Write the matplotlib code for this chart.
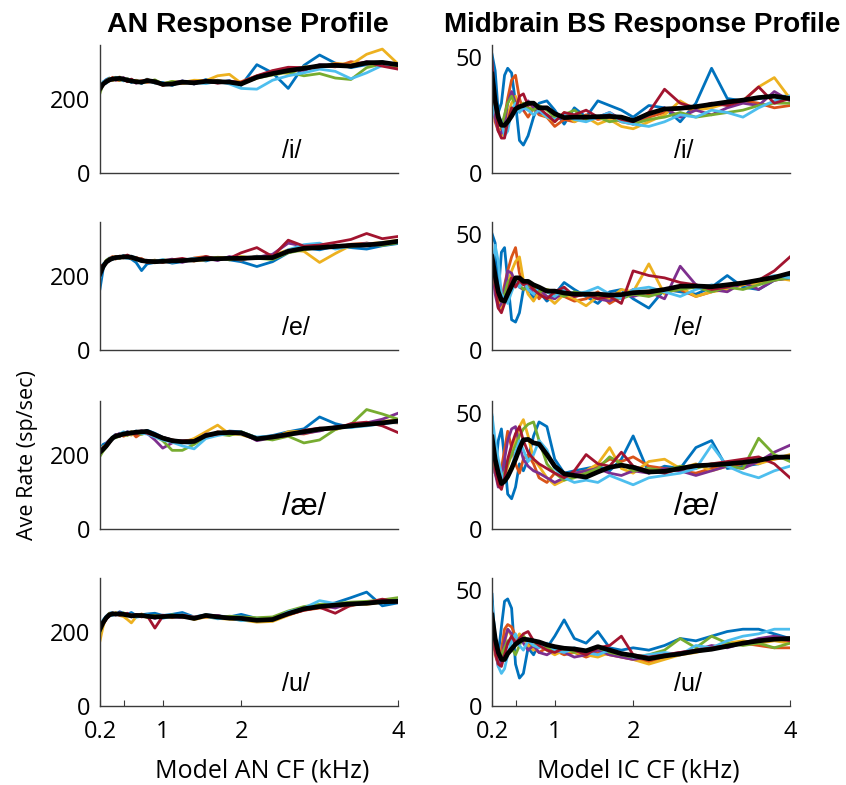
import matplotlib
matplotlib.use("Agg")
import matplotlib.pyplot as plt

# characteristic frequencies (kHz) shared by every trace
cf_khz = [0.20, 0.24, 0.28, 0.32, 0.36, 0.40, 0.45, 0.50, 0.55, 0.60, 0.66, 0.73,
          0.80, 0.90, 1.00, 1.12, 1.25, 1.40, 1.55, 1.70, 1.85, 2.00, 2.20, 2.40,
          2.60, 2.80, 3.00, 3.20, 3.40, 3.60, 3.80, 4.00]

# AN average rate (sp/sec); one row per talker/token, order = MATLAB colour order
an_i = [
    [222, 245, 252, 256, 250, 258, 253, 249, 255, 244, 250, 241, 253, 242, 244, 236, 248, 240, 252, 243, 249, 236, 292, 270, 228, 290, 318, 296, 284, 292, 300, 287],
    [230, 236, 250, 248, 258, 251, 249, 256, 246, 252, 243, 249, 244, 250, 236, 245, 241, 247, 244, 250, 242, 246, 262, 272, 280, 278, 290, 286, 300, 294, 290, 285],
    [220, 243, 248, 255, 249, 253, 259, 250, 254, 247, 250, 244, 252, 243, 241, 246, 244, 250, 249, 262, 266, 242, 255, 275, 268, 286, 285, 296, 292, 320, 334, 294],
    [232, 238, 244, 252, 256, 250, 254, 257, 248, 251, 242, 247, 250, 244, 238, 243, 248, 240, 250, 244, 248, 242, 260, 270, 281, 276, 292, 288, 290, 300, 296, 290],
    [215, 241, 247, 249, 254, 257, 250, 252, 249, 246, 248, 243, 246, 251, 240, 247, 242, 245, 243, 249, 244, 241, 256, 264, 272, 262, 268, 256, 252, 284, 294, 288],
    [228, 246, 242, 253, 251, 256, 258, 248, 252, 249, 244, 246, 248, 244, 242, 238, 246, 244, 241, 247, 240, 228, 226, 250, 262, 270, 280, 274, 254, 270, 290, 295],
    [225, 238, 249, 250, 255, 252, 256, 251, 247, 253, 245, 244, 251, 247, 237, 241, 243, 246, 248, 242, 247, 244, 262, 276, 285, 284, 286, 294, 290, 299, 288, 280],
]
an_i_mean = [227, 240, 246, 251, 253, 254, 255, 253, 250, 248, 246, 245, 249, 246, 239, 240, 245, 243, 247, 246, 245, 240, 258, 268, 276, 282, 289, 290, 288, 297, 298, 292]

an_e = [
    [165, 218, 240, 248, 244, 252, 247, 255, 249, 245, 236, 214, 232, 236, 241, 234, 238, 246, 240, 249, 243, 238, 225, 238, 262, 276, 270, 280, 276, 272, 281, 287],
    [215, 228, 240, 246, 252, 245, 253, 248, 255, 246, 250, 243, 240, 242, 236, 244, 239, 248, 252, 244, 250, 242, 253, 246, 264, 272, 280, 276, 285, 288, 284, 292],
    [210, 230, 236, 245, 249, 252, 247, 253, 249, 252, 244, 246, 238, 235, 243, 241, 244, 240, 243, 250, 248, 252, 246, 255, 270, 266, 236, 260, 282, 286, 290, 296],
    [200, 222, 238, 240, 249, 247, 252, 250, 254, 248, 247, 240, 242, 236, 240, 245, 236, 246, 248, 241, 252, 246, 250, 258, 288, 280, 274, 282, 280, 288, 283, 295],
    [208, 226, 242, 247, 245, 250, 248, 253, 250, 248, 243, 245, 236, 242, 238, 239, 244, 241, 247, 249, 243, 251, 247, 244, 262, 270, 276, 280, 278, 286, 282, 289],
    [195, 232, 236, 244, 250, 246, 251, 249, 247, 253, 248, 238, 240, 239, 244, 236, 242, 247, 244, 245, 249, 244, 252, 247, 270, 284, 288, 272, 280, 282, 290, 291],
    [230, 224, 234, 246, 248, 251, 249, 252, 256, 250, 244, 246, 236, 240, 237, 243, 247, 240, 252, 245, 247, 262, 276, 252, 296, 280, 283, 290, 298, 314, 300, 306],
]
an_e_mean = [205, 225, 237, 243, 247, 249, 250, 251, 251, 250, 246, 241, 239, 238, 239, 240, 241, 243, 246, 246, 247, 247, 249, 249, 266, 274, 276, 279, 282, 283, 287, 293]

an_ae = [
    [215, 228, 232, 240, 248, 255, 250, 258, 262, 255, 264, 259, 266, 258, 247, 240, 233, 230, 250, 254, 264, 262, 246, 252, 262, 270, 302, 284, 274, 282, 284, 290],
    [210, 218, 228, 240, 242, 252, 256, 250, 255, 262, 248, 258, 260, 252, 242, 236, 238, 240, 246, 262, 256, 258, 240, 250, 258, 256, 266, 272, 276, 284, 288, 286],
    [205, 222, 226, 232, 246, 248, 254, 260, 256, 253, 262, 258, 264, 248, 244, 240, 232, 244, 262, 280, 256, 254, 242, 244, 262, 264, 270, 268, 280, 284, 290, 294],
    [200, 212, 230, 238, 244, 252, 258, 254, 262, 256, 260, 265, 258, 240, 218, 232, 238, 234, 256, 254, 262, 260, 238, 246, 254, 258, 264, 276, 280, 286, 296, 312],
    [196, 210, 220, 234, 248, 246, 250, 255, 252, 262, 258, 255, 260, 250, 238, 212, 212, 228, 248, 256, 252, 262, 246, 240, 250, 232, 240, 268, 282, 322, 310, 296],
    [222, 216, 226, 236, 242, 250, 256, 262, 258, 256, 262, 258, 256, 248, 240, 234, 224, 216, 244, 252, 258, 256, 248, 250, 256, 260, 268, 274, 274, 278, 284, 288],
    [208, 220, 222, 232, 246, 254, 250, 257, 254, 258, 256, 262, 258, 252, 247, 240, 236, 238, 250, 256, 262, 258, 244, 246, 252, 266, 272, 270, 284, 288, 278, 260],
]
an_ae_mean = [207, 215, 224, 235, 245, 250, 253, 256, 258, 259, 261, 262, 263, 254, 245, 238, 235, 236, 252, 259, 260, 259, 243, 248, 255, 262, 269, 273, 278, 282, 286, 291]

an_u = [
    [200, 230, 242, 250, 252, 246, 254, 250, 247, 252, 244, 246, 248, 250, 244, 247, 252, 240, 246, 243, 240, 247, 236, 238, 248, 266, 270, 278, 292, 307, 270, 278],
    [205, 220, 236, 244, 251, 247, 249, 250, 244, 246, 241, 248, 240, 243, 239, 244, 238, 241, 239, 244, 235, 239, 228, 236, 246, 258, 264, 268, 270, 280, 284, 286],
    [176, 215, 240, 250, 246, 252, 244, 241, 233, 224, 240, 246, 238, 241, 244, 238, 245, 233, 240, 236, 234, 232, 226, 228, 244, 260, 266, 270, 276, 274, 280, 284],
    [210, 228, 236, 242, 249, 245, 252, 248, 250, 240, 247, 243, 244, 236, 245, 240, 239, 238, 242, 244, 236, 234, 233, 235, 252, 262, 272, 264, 278, 276, 284, 280],
    [198, 226, 240, 244, 246, 250, 247, 251, 246, 244, 242, 247, 241, 244, 238, 246, 240, 236, 246, 238, 242, 240, 238, 240, 256, 268, 274, 276, 280, 282, 286, 292],
    [212, 232, 242, 248, 244, 250, 246, 248, 243, 245, 239, 242, 246, 240, 236, 243, 246, 240, 242, 235, 238, 230, 234, 232, 254, 264, 284, 276, 272, 279, 282, 285],
    [220, 222, 234, 246, 250, 248, 245, 247, 249, 242, 246, 240, 244, 210, 242, 240, 245, 239, 244, 241, 236, 238, 232, 234, 246, 258, 266, 250, 272, 278, 288, 280],
]
an_u_mean = [207, 225, 238, 246, 248, 248, 248, 247, 245, 243, 244, 244, 242, 240, 241, 242, 242, 236, 244, 240, 237, 236, 231, 233, 249, 262, 268, 272, 275, 277, 281, 282]

# midbrain (IC) average rate (sp/sec)
ic_i = [
    [51, 44, 26, 30, 42, 45, 43, 30, 14, 12, 16, 24, 30, 31, 27, 21, 28, 24, 31, 29, 27, 24, 29, 28, 22, 30, 45, 32, 31, 32, 33, 33],
    [34, 22, 18, 19, 24, 32, 40, 42, 32, 27, 24, 28, 25, 24, 20, 23, 22, 25, 23, 24, 22, 21, 24, 26, 28, 27, 29, 30, 31, 30, 28, 29],
    [40, 26, 19, 16, 18, 25, 30, 33, 28, 30, 27, 29, 26, 24, 22, 26, 22, 24, 21, 23, 20, 19, 22, 25, 31, 27, 28, 30, 31, 37, 41, 32],
    [38, 24, 18, 17, 21, 30, 35, 30, 28, 27, 31, 28, 26, 25, 23, 24, 25, 23, 24, 26, 23, 22, 25, 28, 24, 27, 25, 28, 30, 29, 35, 31],
    [36, 28, 21, 20, 25, 30, 33, 29, 27, 30, 28, 27, 29, 27, 24, 25, 27, 23, 24, 22, 23, 21, 23, 24, 26, 24, 25, 26, 27, 29, 30, 30],
    [24, 30, 25, 22, 16, 18, 27, 30, 26, 28, 27, 25, 27, 24, 23, 25, 23, 22, 24, 26, 22, 21, 20, 22, 25, 24, 27, 26, 24, 28, 31, 33],
    [48, 30, 18, 15, 15, 22, 28, 27, 33, 34, 29, 30, 28, 25, 22, 26, 25, 27, 24, 25, 23, 22, 26, 36, 30, 28, 30, 29, 31, 37, 30, 32],
]
ic_i_mean = [42.5, 31, 24, 20.5, 20.5, 22, 24.5, 27.5, 28.5, 29, 30, 30, 28, 28, 25.5, 23.8, 24, 24, 24.2, 24.3, 24, 22.5, 25.5, 27.5, 27.8, 28.5, 29.5, 30.5, 31.3, 32.4, 33, 32]

ic_e = [
    [50, 46, 24, 42, 44, 30, 13, 12, 16, 26, 27, 22, 25, 21, 24, 29, 26, 23, 20, 25, 26, 22, 18, 26, 25, 24, 27, 32, 27, 26, 30, 32],
    [36, 26, 20, 22, 28, 34, 40, 44, 33, 29, 25, 27, 22, 26, 24, 23, 21, 22, 25, 20, 23, 26, 24, 25, 26, 23, 25, 27, 28, 29, 30, 31],
    [38, 27, 20, 18, 22, 28, 34, 38, 40, 30, 24, 21, 25, 23, 20, 24, 22, 19, 23, 22, 26, 25, 37, 24, 27, 23, 25, 26, 28, 29, 31, 30],
    [37, 24, 18, 20, 26, 34, 33, 29, 27, 26, 28, 24, 26, 23, 22, 25, 23, 24, 22, 21, 24, 23, 25, 22, 36, 28, 26, 25, 29, 26, 30, 31],
    [35, 28, 22, 21, 24, 29, 31, 30, 28, 26, 27, 28, 25, 26, 25, 23, 25, 24, 22, 23, 22, 24, 23, 25, 26, 27, 25, 27, 26, 28, 30, 31],
    [30, 45, 38, 24, 22, 20, 25, 29, 27, 30, 26, 24, 27, 25, 23, 26, 24, 25, 27, 24, 22, 26, 27, 25, 23, 26, 28, 27, 29, 30, 32, 31],
    [41, 28, 18, 16, 20, 25, 31, 27, 30, 28, 29, 26, 24, 22, 25, 27, 23, 24, 22, 23, 20, 34, 32, 31, 29, 28, 26, 27, 29, 30, 34, 40],
]
ic_e_mean = [40, 32, 25, 21.5, 21, 24, 27.5, 31, 31, 29.5, 29.5, 28, 27, 25.3, 25.3, 24.5, 24, 24, 24, 23.6, 23.8, 24.6, 25, 26, 27.4, 27.5, 27.2, 28, 28.8, 30, 31.2, 33]

ic_ae = [
    [48, 24, 38, 43, 30, 15, 13, 18, 28, 25, 30, 40, 46, 44, 30, 24, 25, 26, 27, 25, 30, 40, 24, 27, 26, 35, 38, 26, 27, 28, 31, 30],
    [38, 24, 20, 26, 34, 42, 35, 28, 24, 30, 32, 28, 22, 20, 24, 22, 24, 23, 27, 30, 29, 31, 27, 26, 25, 24, 26, 27, 28, 29, 30, 31],
    [36, 28, 22, 19, 22, 27, 32, 38, 44, 47, 40, 30, 27, 22, 19, 21, 24, 25, 28, 35, 26, 24, 29, 30, 26, 28, 25, 27, 29, 28, 30, 32],
    [36, 24, 18, 22, 30, 38, 43, 44, 36, 30, 27, 25, 24, 22, 20, 22, 24, 25, 26, 24, 23, 25, 24, 26, 25, 23, 25, 27, 26, 29, 33, 36],
    [35, 26, 22, 20, 24, 28, 32, 36, 40, 43, 45, 46, 38, 28, 24, 21, 22, 24, 26, 31, 28, 25, 26, 25, 27, 26, 28, 27, 26, 39, 32, 29],
    [49, 38, 30, 24, 20, 22, 26, 33, 38, 34, 29, 32, 38, 34, 26, 22, 20, 21, 20, 23, 21, 19, 22, 23, 24, 26, 36, 27, 24, 22, 25, 27],
    [40, 26, 19, 17, 22, 30, 36, 41, 44, 38, 33, 30, 28, 26, 24, 22, 25, 32, 28, 27, 33, 27, 25, 24, 26, 27, 28, 29, 30, 31, 28, 22],
]
ic_ae_mean = [39.5, 30, 24, 19.5, 20.5, 22.5, 26, 30, 34.5, 38.3, 38.5, 37, 36.5, 32, 27, 23.7, 23, 22.3, 24.5, 26.5, 27.4, 26.5, 24.5, 24.8, 26, 27.2, 27.5, 28, 28.6, 29.5, 30.8, 31]

ic_u = [
    [48, 26, 22, 34, 45, 46, 42, 18, 12, 14, 25, 22, 27, 25, 30, 37, 29, 27, 32, 25, 24, 25, 24, 26, 29, 28, 30, 32, 33, 33, 31, 29],
    [36, 22, 18, 24, 33, 35, 34, 30, 28, 30, 27, 25, 23, 25, 24, 22, 23, 21, 23, 22, 21, 20, 19, 21, 22, 24, 25, 26, 27, 26, 25, 25],
    [38, 25, 19, 21, 27, 33, 30, 28, 31, 29, 26, 24, 26, 24, 22, 24, 23, 22, 21, 23, 22, 20, 18, 20, 22, 23, 25, 27, 28, 27, 28, 27],
    [37, 24, 17, 20, 28, 33, 31, 27, 29, 27, 24, 26, 23, 22, 24, 23, 21, 22, 24, 22, 21, 20, 21, 22, 23, 24, 26, 25, 27, 29, 30, 29],
    [35, 26, 21, 22, 25, 28, 25, 22, 26, 30, 28, 26, 27, 25, 24, 25, 23, 24, 25, 23, 22, 21, 22, 24, 29, 25, 30, 27, 26, 27, 25, 27],
    [44, 30, 17, 14, 16, 22, 28, 31, 26, 24, 28, 26, 25, 27, 24, 23, 25, 23, 22, 24, 23, 21, 22, 23, 22, 26, 25, 28, 30, 31, 33, 33],
    [40, 24, 18, 17, 22, 27, 30, 27, 29, 31, 32, 28, 26, 24, 23, 25, 24, 22, 25, 26, 30, 22, 21, 22, 23, 24, 25, 26, 27, 28, 29, 28],
]
ic_u_mean = [39, 29, 23, 20, 20, 22.5, 24.5, 26.5, 27.8, 28.7, 28.5, 28, 27.5, 26.3, 25.5, 24.8, 24.5, 23.7, 25.5, 24, 22.5, 21.7, 20.3, 21.5, 22.4, 23.6, 24.4, 25.7, 27, 28, 28.7, 29]

vowels = ["/i/", "/e/", "/æ/", "/u/"]
xtick_vals = [0.2, 0.5, 1, 2, 4]
xtick_text = ["0.2", "", "1", "2", "4"]

COLORS = ["#0072BD", "#D95319", "#EDB120", "#7E2F8E", "#77AC30", "#4DBEEE", "#A2142F"]
TICK_FONT = "Open Sans"
TITLE_FONT = "Liberation Sans"

W, H = 846, 785
fig = plt.figure(figsize=(W / 100, H / 100), dpi=100)

col_left = [100, 492]        # px, left edge of each column
ax_w, ax_h = 298, 128
row_bottom = [173, 350, 529, 706]   # px from top

panels = [
    [(an_i, an_i_mean), (ic_i, ic_i_mean)],
    [(an_e, an_e_mean), (ic_e, ic_e_mean)],
    [(an_ae, an_ae_mean), (ic_ae, ic_ae_mean)],
    [(an_u, an_u_mean), (ic_u, ic_u_mean)],
]
ylims = [345, 55]
yticks = [[0, 200], [0, 50]]

for r in range(4):
    for c in range(2):
        traces, mean = panels[r][c]
        assert all(len(t) == len(cf_khz) for t in traces) and len(mean) == len(cf_khz)
        ax = fig.add_axes([col_left[c] / W, 1 - row_bottom[r] / H, ax_w / W, ax_h / H])
        for col, tr in zip(COLORS, traces):
            ax.plot(cf_khz, tr, color=col, lw=2.0)
        ax.plot(cf_khz, mean, color="black", lw=3.4)
        ax.set_xlim(0.2, 4)
        ax.set_ylim(0, ylims[c])
        for s in ("top", "right"):
            ax.spines[s].set_visible(False)
        for s in ("left", "bottom"):
            ax.spines[s].set_color("#3a3a3a")
            ax.spines[s].set_linewidth(1.0)
        ax.set_yticks(yticks[c])
        ax.set_xticks(xtick_vals)
        ax.tick_params(axis="y", length=0, pad=7, labelsize=17)
        if r == 3:
            ax.set_xticklabels(xtick_text)
            ax.tick_params(axis="x", direction="in", length=4, color="#3a3a3a",
                           pad=10, labelsize=17)
        else:
            ax.tick_params(axis="x", length=0, labelbottom=False)
        for lab in ax.get_xticklabels() + ax.get_yticklabels():
            lab.set_family(TICK_FONT)
        size = 22 if "æ" in vowels[r] else 18
        ax.text(0.61, 0.17, vowels[r], transform=ax.transAxes, ha="left", va="center",
                fontsize=size, family=TITLE_FONT)

fig.text(248 / W, 1 - 25 / H, "AN Response Profile", ha="center", va="center",
         fontsize=20.5, fontweight="bold", family=TITLE_FONT)
fig.text(642 / W, 1 - 25 / H, "Midbrain BS Response Profile", ha="center", va="center",
         fontsize=20, fontweight="bold", family=TITLE_FONT)
fig.text(262 / W, 1 - 771 / H, "Model AN CF (kHz)", ha="center", va="center",
         fontsize=18, family=TICK_FONT)
fig.text(638 / W, 1 - 771 / H, "Model IC CF (kHz)", ha="center", va="center",
         fontsize=18, family=TICK_FONT)
fig.text(28 / W, 1 - 455 / H, "Ave Rate (sp/sec)", ha="center", va="center",
         rotation=90, fontsize=15.5, family=TICK_FONT)

fig.savefig("out.png", dpi=100)
